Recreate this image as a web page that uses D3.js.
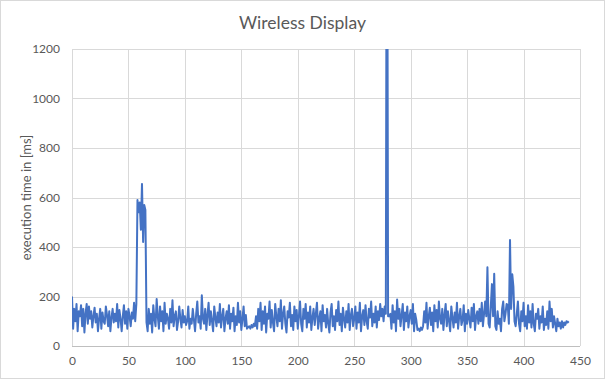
<!DOCTYPE html>
<html>
<head>
<meta charset="utf-8">
<script src="https://cdn.jsdelivr.net/npm/d3@7"></script>
<style>
  body { margin: 0; background: #fff; }
  text { font-family: Lato, "Open Sans", sans-serif; fill: #595959; }
</style>
</head>
<body>
<svg id="graph" width="605" height="379"></svg>
<script>
// chart values (x = sample index)
const titleText = "Wireless Display";
const yLabel = "execution time in [ms]";
const xTicks = [0, 50, 100, 150, 200, 250, 300, 350, 400, 450];
const yTicks = [0, 200, 400, 600, 800, 1000, 1200];
const execTime = [
  200, 70, 150, 100, 170, 60, 140, 120, 165, 80,
  150, 55, 130, 170, 90, 160, 110, 140, 75, 120,
  155, 95, 130, 60, 110, 150, 70, 135, 100, 90,
  160, 125, 80, 140, 60, 115, 150, 95, 130, 100,
  170, 75, 145, 110, 60, 120, 165, 90, 140, 70,
  150, 120, 80, 135, 110, 175, 100, 170, 590, 540,
  580, 470, 655, 420, 570, 550, 95, 60, 150, 90,
  130, 55, 165, 110, 80, 190, 120, 70, 160, 100,
  140, 60, 175, 90, 130, 110, 70, 150, 95, 185,
  80, 120, 140, 65, 100, 160, 110, 75, 145, 95,
  120, 85, 100, 160, 70, 110, 90, 150, 105, 60,
  130, 180, 95, 120, 70, 205, 110, 90, 150, 65,
  125, 175, 85, 140, 100, 60, 160, 115, 80, 135,
  95, 170, 75, 120, 150, 60, 110, 140, 90, 165,
  70, 130, 100, 155, 60, 120, 85, 175, 95, 140,
  65, 110, 160, 80, 125, 70, 75, 80, 70, 85,
  75, 90, 80, 120, 70, 150, 100, 175, 65, 140,
  90, 160, 55, 130, 110, 180, 75, 145, 95, 60,
  170, 120, 80, 150, 100, 185, 70, 130, 160, 90,
  55, 140, 115, 175, 80, 125, 65, 160, 100, 145,
  70, 120, 180, 90, 60, 150, 110, 170, 75, 135,
  95, 160, 65, 115, 150, 85, 130, 175, 70, 110,
  140, 60, 165, 100, 125, 75, 150, 90, 55, 135,
  170, 80, 120, 65, 145, 100, 180, 85, 130, 60,
  155, 110, 75, 140, 95, 170, 65, 125, 150, 80,
  110, 160, 70, 135, 95, 175, 60, 120, 145, 85,
  165, 100, 70, 150, 115, 180, 80, 130, 95, 160,
  75, 140, 105, 170, 120, 150, 100, 160, 130, 2500,
  120, 120, 130, 70, 165, 95, 140, 60, 188, 110,
  150, 80, 125, 170, 65, 135, 100, 160, 75, 120,
  145, 90, 170, 60, 130, 105, 65, 70, 60, 75,
  65, 80, 140, 95, 175, 70, 120, 155, 85, 135,
  60, 165, 100, 145, 75, 180, 110, 90, 150, 65,
  125, 170, 80, 140, 100, 60, 160, 115, 75, 135,
  95, 175, 70, 120, 150, 85, 105, 165, 60, 130,
  90, 145, 110, 75, 155, 100, 170, 65, 120, 140,
  90, 150, 100, 175, 80, 130, 180, 120, 318, 90,
  75, 160, 250, 120, 292, 80, 65, 140, 90, 110,
  60, 150, 180, 100, 130, 170, 165, 90, 428, 150,
  290, 240, 100, 80, 130, 180, 90, 60, 140, 100,
  175, 80, 120, 70, 165, 95, 140, 75, 170, 90,
  60, 130, 110, 150, 70, 120, 95, 160, 65, 110,
  85, 140, 70, 180, 100, 150, 75, 120, 90, 60,
  110, 80, 95, 70, 100, 75, 95, 85, 100, 95,
  100
];

const width = 605, height = 379;
const margin = { top: 49, bottom: 33, right: 25, left: 72 };
const innerWidth = width - margin.left - margin.right;
const innerHeight = height - margin.top - margin.bottom;

const svg = d3.select('#graph');

// outer chart border
svg.append('rect')
  .attr('x', 0.5).attr('y', 0.5)
  .attr('width', width - 1).attr('height', height - 1)
  .attr('fill', '#fff').attr('stroke', '#d9d9d9');

const g = svg.append('g').attr('transform', `translate(${margin.left}, ${margin.top})`);

const x = d3.scaleLinear().domain([0, 450]).range([0, innerWidth]);
const y = d3.scaleLinear().domain([0, 1200]).range([innerHeight, 0]);

// gridlines
g.selectAll('.hgrid').data(yTicks).join('line')
  .attr('class', 'hgrid')
  .attr('x1', 0).attr('x2', innerWidth)
  .attr('y1', d => Math.round(y(d)) + 0.5).attr('y2', d => Math.round(y(d)) + 0.5)
  .attr('stroke', '#d9d9d9');
g.selectAll('.vgrid').data(xTicks).join('line')
  .attr('class', 'vgrid')
  .attr('y1', 0).attr('y2', innerHeight)
  .attr('x1', d => Math.round(x(d)) + 0.5).attr('x2', d => Math.round(x(d)) + 0.5)
  .attr('stroke', '#d9d9d9');

// axes (labels only, lines come from the grid)
const xAxis = g.append('g').attr('transform', `translate(0,${innerHeight})`)
  .call(d3.axisBottom(x).tickValues(xTicks).tickFormat(d3.format('d')).tickSize(0).tickPadding(10));
const yAxis = g.append('g')
  .call(d3.axisLeft(y).tickValues(yTicks).tickFormat(d3.format('d')).tickSize(0).tickPadding(12));
[xAxis, yAxis].forEach(a => {
  a.attr('font-size', null).attr('font-family', null);
  a.select('.domain').remove();
  a.selectAll('text').style('font-size', '12px').attr('fill', '#595959');
});
// bottom axis line a bit darker
g.append('line')
  .attr('x1', 0).attr('x2', innerWidth)
  .attr('y1', Math.round(innerHeight) + 0.5).attr('y2', Math.round(innerHeight) + 0.5)
  .attr('stroke', '#bfbfbf');

// clip so the big spike stops at the top of the plot
svg.append('defs').append('clipPath').attr('id', 'plotClip')
  .append('rect').attr('x', 0).attr('y', 0).attr('width', innerWidth).attr('height', innerHeight);

const line = d3.line()
  .x((d, i) => x(i))
  .y(d => y(d));

g.append('path')
  .datum(execTime)
  .attr('clip-path', 'url(#plotClip)')
  .attr('d', line)
  .attr('fill', 'none')
  .attr('stroke', '#4472c4')
  .attr('stroke-width', 2)
  .attr('stroke-linejoin', 'round');

// title
svg.append('text')
  .attr('x', width / 2).attr('y', 29)
  .attr('text-anchor', 'middle')
  .style('font-size', '17.5px')
  .text(titleText);

// y axis label
svg.append('text')
  .attr('transform', 'rotate(-90)')
  .attr('x', -(margin.top + innerHeight / 2))
  .attr('y', 31)
  .attr('text-anchor', 'middle')
  .style('font-size', '13px')
  .text(yLabel);
</script>
</body>
</html>
